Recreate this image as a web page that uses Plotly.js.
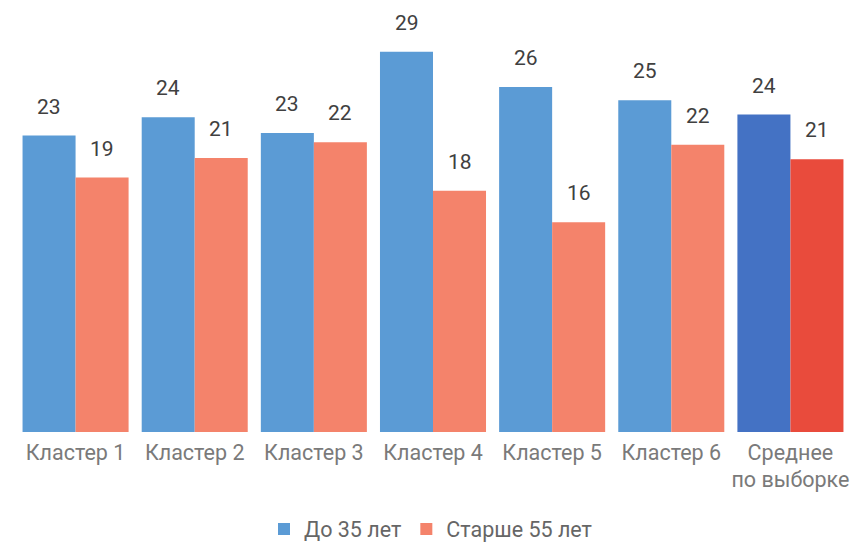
<!DOCTYPE html>
<html>
<head>
<meta charset="utf-8">
<script src="https://cdn.plot.ly/plotly-3.0.1.min.js"></script>
<style>html,body{margin:0;padding:0;background:#fff;}#chart{width:861px;height:543px;}</style>
</head>
<body>
<div id="chart"></div>
<script>
const categories = ["Кластер 1", "Кластер 2", "Кластер 3", "Кластер 4", "Кластер 5", "Кластер 6", "Среднее<br>по выборке"];
const seriesNames = ["До 35 лет", "Старше 55 лет"];
const young = [22.6, 24.0, 22.8, 29.0, 26.3, 25.3, 24.2];
const old = [19.4, 20.9, 22.1, 18.4, 16.0, 21.9, 20.8];
const youngLabels = ["23", "24", "23", "29", "26", "25", "24"];
const oldLabels = ["19", "21", "22", "18", "16", "22", "21"];

const blue = "#5B9BD5", orange = "#F4836B", avgBlue = "#4472C4", avgRed = "#E94B3C";
const youngColors = categories.map((c, i) => i === categories.length - 1 ? avgBlue : blue);
const oldColors = categories.map((c, i) => i === categories.length - 1 ? avgRed : orange);

const traces = [
  {type: "bar", name: seriesNames[0], x: categories, y: young, marker: {color: youngColors}, hoverinfo: "x+y"},
  {type: "bar", name: seriesNames[1], x: categories, y: old, marker: {color: oldColors}, hoverinfo: "x+y"}
];

const annotations = [];
categories.forEach((c, i) => {
  annotations.push({x: c, y: young[i], xref: "x", yref: "y", text: youngLabels[i], showarrow: false,
    xshift: -26.5, yshift: 29, yanchor: "middle", font: {family: "Roboto", size: 21, color: "#404040"}});
  annotations.push({x: c, y: old[i], xref: "x", yref: "y", text: oldLabels[i], showarrow: false,
    xshift: 26.5, yshift: 29, yanchor: "middle", font: {family: "Roboto", size: 21, color: "#404040"}});
});

const layout = {
  width: 861, height: 543,
  margin: {l: 16, r: 11, t: 32, b: 111},
  paper_bgcolor: "#fff", plot_bgcolor: "#fff",
  font: {family: "Roboto", color: "#777"},
  barmode: "group", bargap: 0.11, bargroupgap: 0,
  xaxis: {showgrid: false, zeroline: false, showline: false, ticks: "", ticklabelstandoff: 5,
    tickfont: {size: 21.5, color: "#7a7a7a"}, fixedrange: true},
  yaxis: {range: [0, 30.5], visible: false, fixedrange: true},
  showlegend: true,
  legend: {orientation: "h", x: 0.5, xanchor: "center", xref: "container", y: 14/543, yref: "container", yanchor: "middle",
    font: {size: 21.5, color: "#666"}},
  annotations: annotations
};

Plotly.newPlot("chart", traces, layout, {displayModeBar: false, staticPlot: true});
</script>
</body>
</html>
